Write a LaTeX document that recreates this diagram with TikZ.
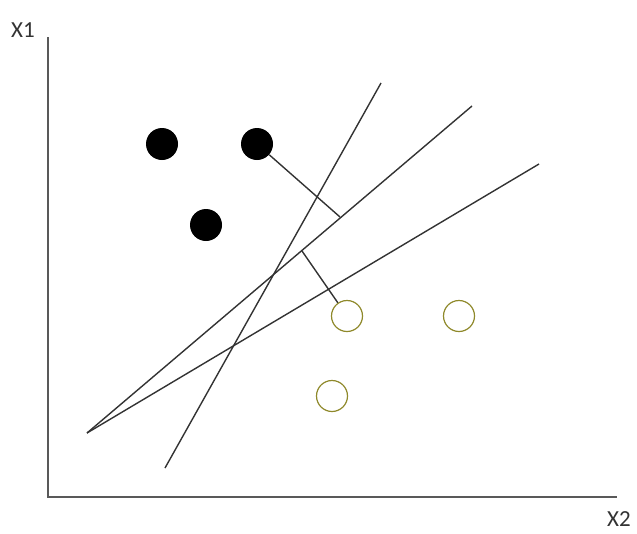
\documentclass[tikz,border=0pt]{standalone}
\usepackage{fontspec}
\setmainfont{Carlito}
\begin{document}
\begin{tikzpicture}[x=1pt,y=-1pt,
  ln/.style={draw=black!80,line width=1.4pt},
  ax/.style={draw=black!65,line width=2.2pt},
  blk/.style={circle,fill=black,minimum size=32pt,inner sep=0pt},
  wht/.style={circle,draw=olive!70!gray,line width=1.2pt,minimum size=31pt,inner sep=0pt},
  lbl/.style={font=\fontsize{23}{23}\selectfont,text=black!80,inner sep=0pt}]
\useasboundingbox (0,0) rectangle (637,533);
% axes
\coordinate (o) at (48,497);
\coordinate (ytop) at (48,37);
\coordinate (xend) at (617,497);
\draw[ax] (ytop) -- (o) -- (xend);
\node[lbl] (x1) at (23,30) {X1};
\node[lbl] (x2) at (619,519) {X2};
% lines
\coordinate (a1) at (165,468);
\coordinate (a2) at (381,83);
\coordinate (b1) at (87,433);
\coordinate (b2) at (472,106);
\coordinate (c2) at (539,164);
\draw[ln] (a1) -- (a2);
\draw[ln] (b1) -- (b2);
\draw[ln] (b1) -- (c2);
% points
\node[blk] (p1) at (162,144) {};
\node[blk] (p2) at (257,144) {};
\node[blk] (p3) at (206,225) {};
\node[wht] (q1) at (347,316) {};
\node[wht] (q2) at (459,316) {};
\node[wht] (q3) at (332,396) {};
% margin segments
\coordinate (m1) at (340,217);
\coordinate (m2) at (302,251);
\draw[ln] (p2) -- (m1);
\draw[ln] (m2) -- (q1);
\end{tikzpicture}
\end{document}
